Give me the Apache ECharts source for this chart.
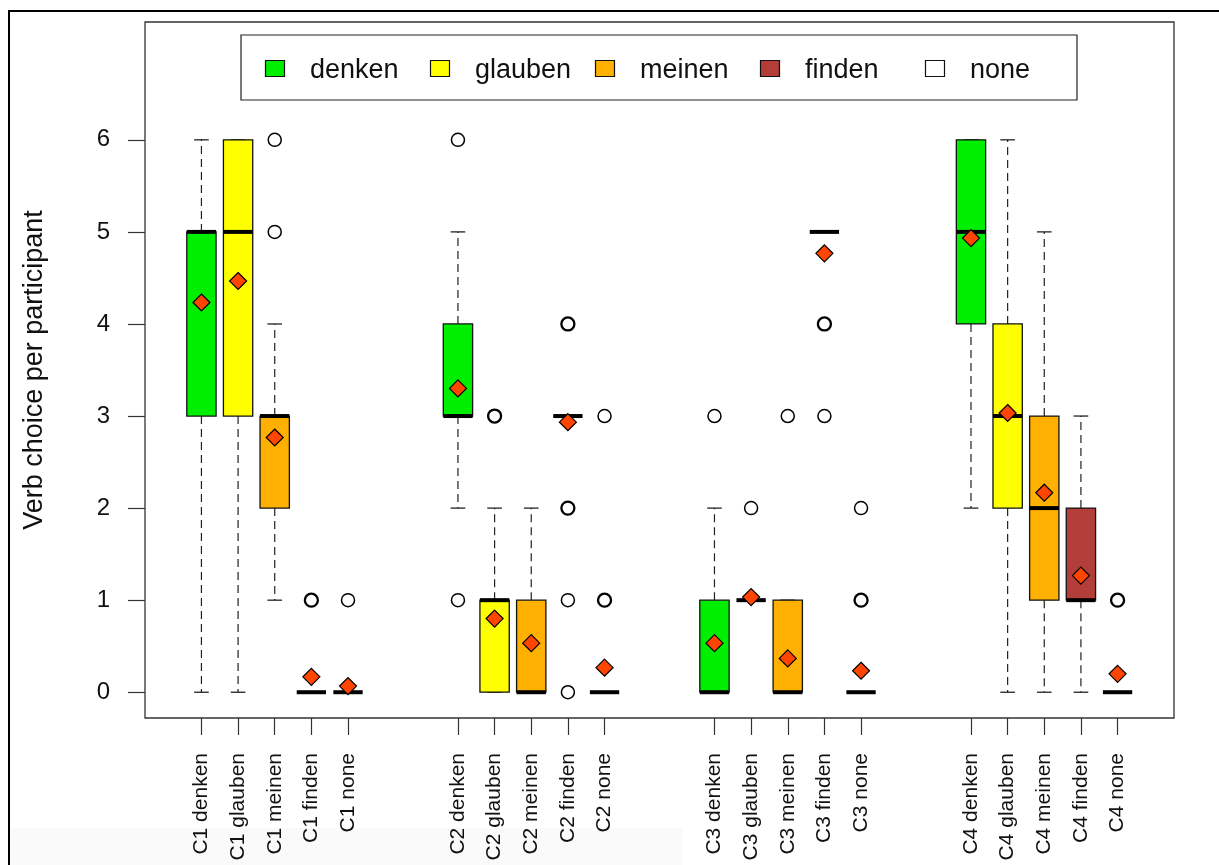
<!DOCTYPE html>
<html>
<head>
<meta charset="utf-8">
<title>Verb choice per participant</title>
<script src="https://cdn.jsdelivr.net/npm/echarts@6/dist/echarts.min.js"></script>
<style>
  html, body { margin: 0; padding: 0; background: #fff; }
  #chart { width: 1219px; height: 865px; }
</style>
</head>
<body>
<div id="chart"></div>
<script>
// Conditions and verbs (one box per condition x verb)
const groups = ['C1', 'C2', 'C3', 'C4'];
const verbs = ['denken', 'glauben', 'meinen', 'finden', 'none'];
const verbColors = ['#00EE00', '#FFFF00', '#FFB000', '#B33D38', '#FFFFFF'];
const yTicks = [0, 1, 2, 3, 4, 5, 6];

// Five-number summaries per verb, one row per condition: [lower whisker, Q1, median, Q3, upper whisker]
const denkenStats  = [[0, 3, 5, 5, 6], [2, 3, 3, 4, 5], [0, 0, 0, 1, 2], [2, 4, 5, 6, 6]];
const glaubenStats = [[0, 3, 5, 6, 6], [0, 0, 1, 1, 2], [1, 1, 1, 1, 1], [0, 2, 3, 4, 6]];
const meinenStats  = [[1, 2, 3, 3, 4], [0, 0, 0, 1, 2], [0, 0, 0, 1, 1], [0, 1, 2, 3, 5]];
const findenStats  = [[0, 0, 0, 0, 0], [3, 3, 3, 3, 3], [5, 5, 5, 5, 5], [0, 1, 1, 2, 3]];
const noneStats    = [[0, 0, 0, 0, 0], [0, 0, 0, 0, 0], [0, 0, 0, 0, 0], [0, 0, 0, 0, 0]];

// Outliers per verb: [condition index, value, number of participants]
const denkenOut  = [[1, 1, 1], [1, 6, 1], [2, 3, 1]];
const glaubenOut = [[1, 3, 2], [2, 2, 1]];
const meinenOut  = [[0, 5, 1], [0, 6, 1], [2, 3, 1]];
const findenOut  = [[0, 1, 2], [1, 4, 2], [1, 2, 2], [1, 1, 1], [1, 0, 1], [2, 4, 2], [2, 3, 1]];
const noneOut    = [[0, 1, 1], [1, 1, 2], [1, 3, 1], [2, 1, 2], [2, 2, 1], [3, 1, 2]];

// Means per verb, one per condition
const denkenMean  = [4.233, 3.300, 0.533, 4.933];
const glaubenMean = [4.467, 0.800, 1.033, 3.033];
const meinenMean  = [2.767, 0.533, 0.367, 2.167];
const findenMean  = [0.167, 2.933, 4.767, 1.267];
const noneMean    = [0.067, 0.267, 0.233, 0.200];

const allStats = [denkenStats, glaubenStats, meinenStats, findenStats, noneStats];
const allOut = [denkenOut, glaubenOut, meinenOut, findenOut, noneOut];
const allMean = [denkenMean, glaubenMean, meinenMean, findenMean, noneMean];

// x position of each box: five boxes per condition, two empty slots between conditions
function boxPos(g, v) { return g * 7 + v + 1; }

const tickPositions = [];
const tickNames = {};
groups.forEach((g, gi) => verbs.forEach((v, vi) => {
  const p = boxPos(gi, vi);
  tickPositions.push(p);
  tickNames[p] = g + ' ' + v;
}));

const FONT = '"Liberation Sans", Arial, Helvetica, sans-serif';
const BOX_HALF = 0.4;
const STAPLE_HALF = 0.2;

function makeRender(fill) {
  return function (params, api) {
    const x = api.value(0);
    const lo = api.value(1), q1 = api.value(2), med = api.value(3), q3 = api.value(4), hi = api.value(5);
    const c = (xx, yy) => api.coord([xx, yy]);
    const children = [];
    const dashed = { stroke: '#222', lineWidth: 1.2, lineDash: [8, 5] };
    const solid = { stroke: '#111', lineWidth: 1.2 };
    if (hi > q3) {
      const a = c(x, q3), b = c(x, hi);
      children.push({ type: 'line', shape: { x1: a[0], y1: a[1], x2: b[0], y2: b[1] }, style: dashed });
    }
    if (lo < q1) {
      const a = c(x, q1), b = c(x, lo);
      children.push({ type: 'line', shape: { x1: a[0], y1: a[1], x2: b[0], y2: b[1] }, style: dashed });
    }
    [hi, lo].forEach(v => {
      const a = c(x - STAPLE_HALF, v), b = c(x + STAPLE_HALF, v);
      children.push({ type: 'line', shape: { x1: a[0], y1: a[1], x2: b[0], y2: b[1] }, style: solid });
    });
    if (q3 > q1) {
      const tl = c(x - BOX_HALF, q3), br = c(x + BOX_HALF, q1);
      children.push({
        type: 'rect',
        shape: { x: tl[0], y: tl[1], width: br[0] - tl[0], height: br[1] - tl[1] },
        style: { fill: fill, stroke: '#111', lineWidth: 1.3 }
      });
    }
    const m1 = c(x - BOX_HALF, med), m2 = c(x + BOX_HALF, med);
    children.push({ type: 'line', shape: { x1: m1[0], y1: m1[1], x2: m2[0], y2: m2[1] }, style: { stroke: '#000', lineWidth: 4 } });
    return { type: 'group', children: children };
  };
}

const series = [];
verbs.forEach((v, vi) => {
  series.push({
    name: v,
    type: 'custom',
    renderItem: makeRender(verbColors[vi]),
    encode: { x: 0, y: [1, 2, 3, 4, 5] },
    data: allStats[vi].map((s, gi) => [boxPos(gi, vi)].concat(s)),
    z: 2
  });
});
verbs.forEach((v, vi) => {
  series.push({
    name: v + ' outliers',
    type: 'scatter',
    symbol: 'circle',
    symbolSize: 13,
    z: 3,
    data: allOut[vi].map(o => ({
      value: [boxPos(o[0], vi), o[1]],
      itemStyle: { color: 'rgba(255,255,255,0)', opacity: 1, borderColor: '#000', borderWidth: o[2] > 1 ? 2.3 : 1.5 }
    }))
  });
});
verbs.forEach((v, vi) => {
  series.push({
    name: v + ' mean',
    type: 'scatter',
    symbol: 'diamond',
    symbolSize: 17,
    z: 4,
    itemStyle: { color: '#FF4500', opacity: 1, borderColor: '#000', borderWidth: 1.2 },
    data: allMean[vi].map((m, gi) => [boxPos(gi, vi), m])
  });
});

// Legend drawn as a framed row of swatches
const legendItems = [{
  type: 'rect', shape: { x: 241, y: 35, width: 836, height: 65 },
  style: { fill: '#fff', stroke: '#222', lineWidth: 1.2 }, z: 10
}];
verbs.forEach((v, vi) => {
  legendItems.push({
    type: 'rect', shape: { x: 265.5 + vi * 165, y: 60.5, width: 19, height: 16 },
    style: { fill: verbColors[vi], stroke: '#111', lineWidth: 1.2 }, z: 11
  });
  legendItems.push({
    type: 'text', x: 310 + vi * 165, y: 71,
    style: { text: v, fill: '#111', font: '27px ' + FONT, textVerticalAlign: 'middle', textAlign: 'left' }, z: 11
  });
});

const chart = echarts.init(document.getElementById('chart'));
chart.setOption({
  animation: false,
  backgroundColor: '#fff',
  grid: { left: 145, right: 45, top: 22, bottom: 147, show: true, borderColor: '#333', borderWidth: 1.3, backgroundColor: 'transparent' },
  xAxis: {
    type: 'value', min: -0.54, max: 27.54,
    axisLine: { show: false, onZero: false },
    splitLine: { show: false },
    axisTick: { show: true, customValues: tickPositions, length: 17, lineStyle: { color: '#333', width: 1.2 } },
    axisLabel: {
      customValues: tickPositions, rotate: 90, margin: 35,
      fontSize: 21, fontFamily: FONT, color: '#111',
      formatter: v => tickNames[Math.round(v)] || ''
    }
  },
  yAxis: {
    type: 'value', min: -0.28, max: 7.28,
    axisLine: { show: false, onZero: false },
    splitLine: { show: false },
    axisTick: { show: true, customValues: yTicks, length: 17, lineStyle: { color: '#333', width: 1.2 } },
    axisLabel: { customValues: yTicks, margin: 35, fontSize: 24, fontFamily: FONT, color: '#111' },
    name: 'Verb choice per participant', nameLocation: 'middle', nameGap: 97, nameRotate: 90,
    nameTextStyle: { fontSize: 27, fontFamily: FONT, color: '#111' }
  },
  graphic: [
    { type: 'rect', shape: { x: 10, y: 828, width: 672, height: 37 }, style: { fill: '#fafafa' }, silent: true, z: -10 },
    { type: 'polyline', shape: { points: [[9, 865], [9, 11], [1219, 11]] }, style: { stroke: '#000', lineWidth: 2, fill: null }, silent: true }
  ].concat(legendItems),
  series: series
});
</script>
</body>
</html>
